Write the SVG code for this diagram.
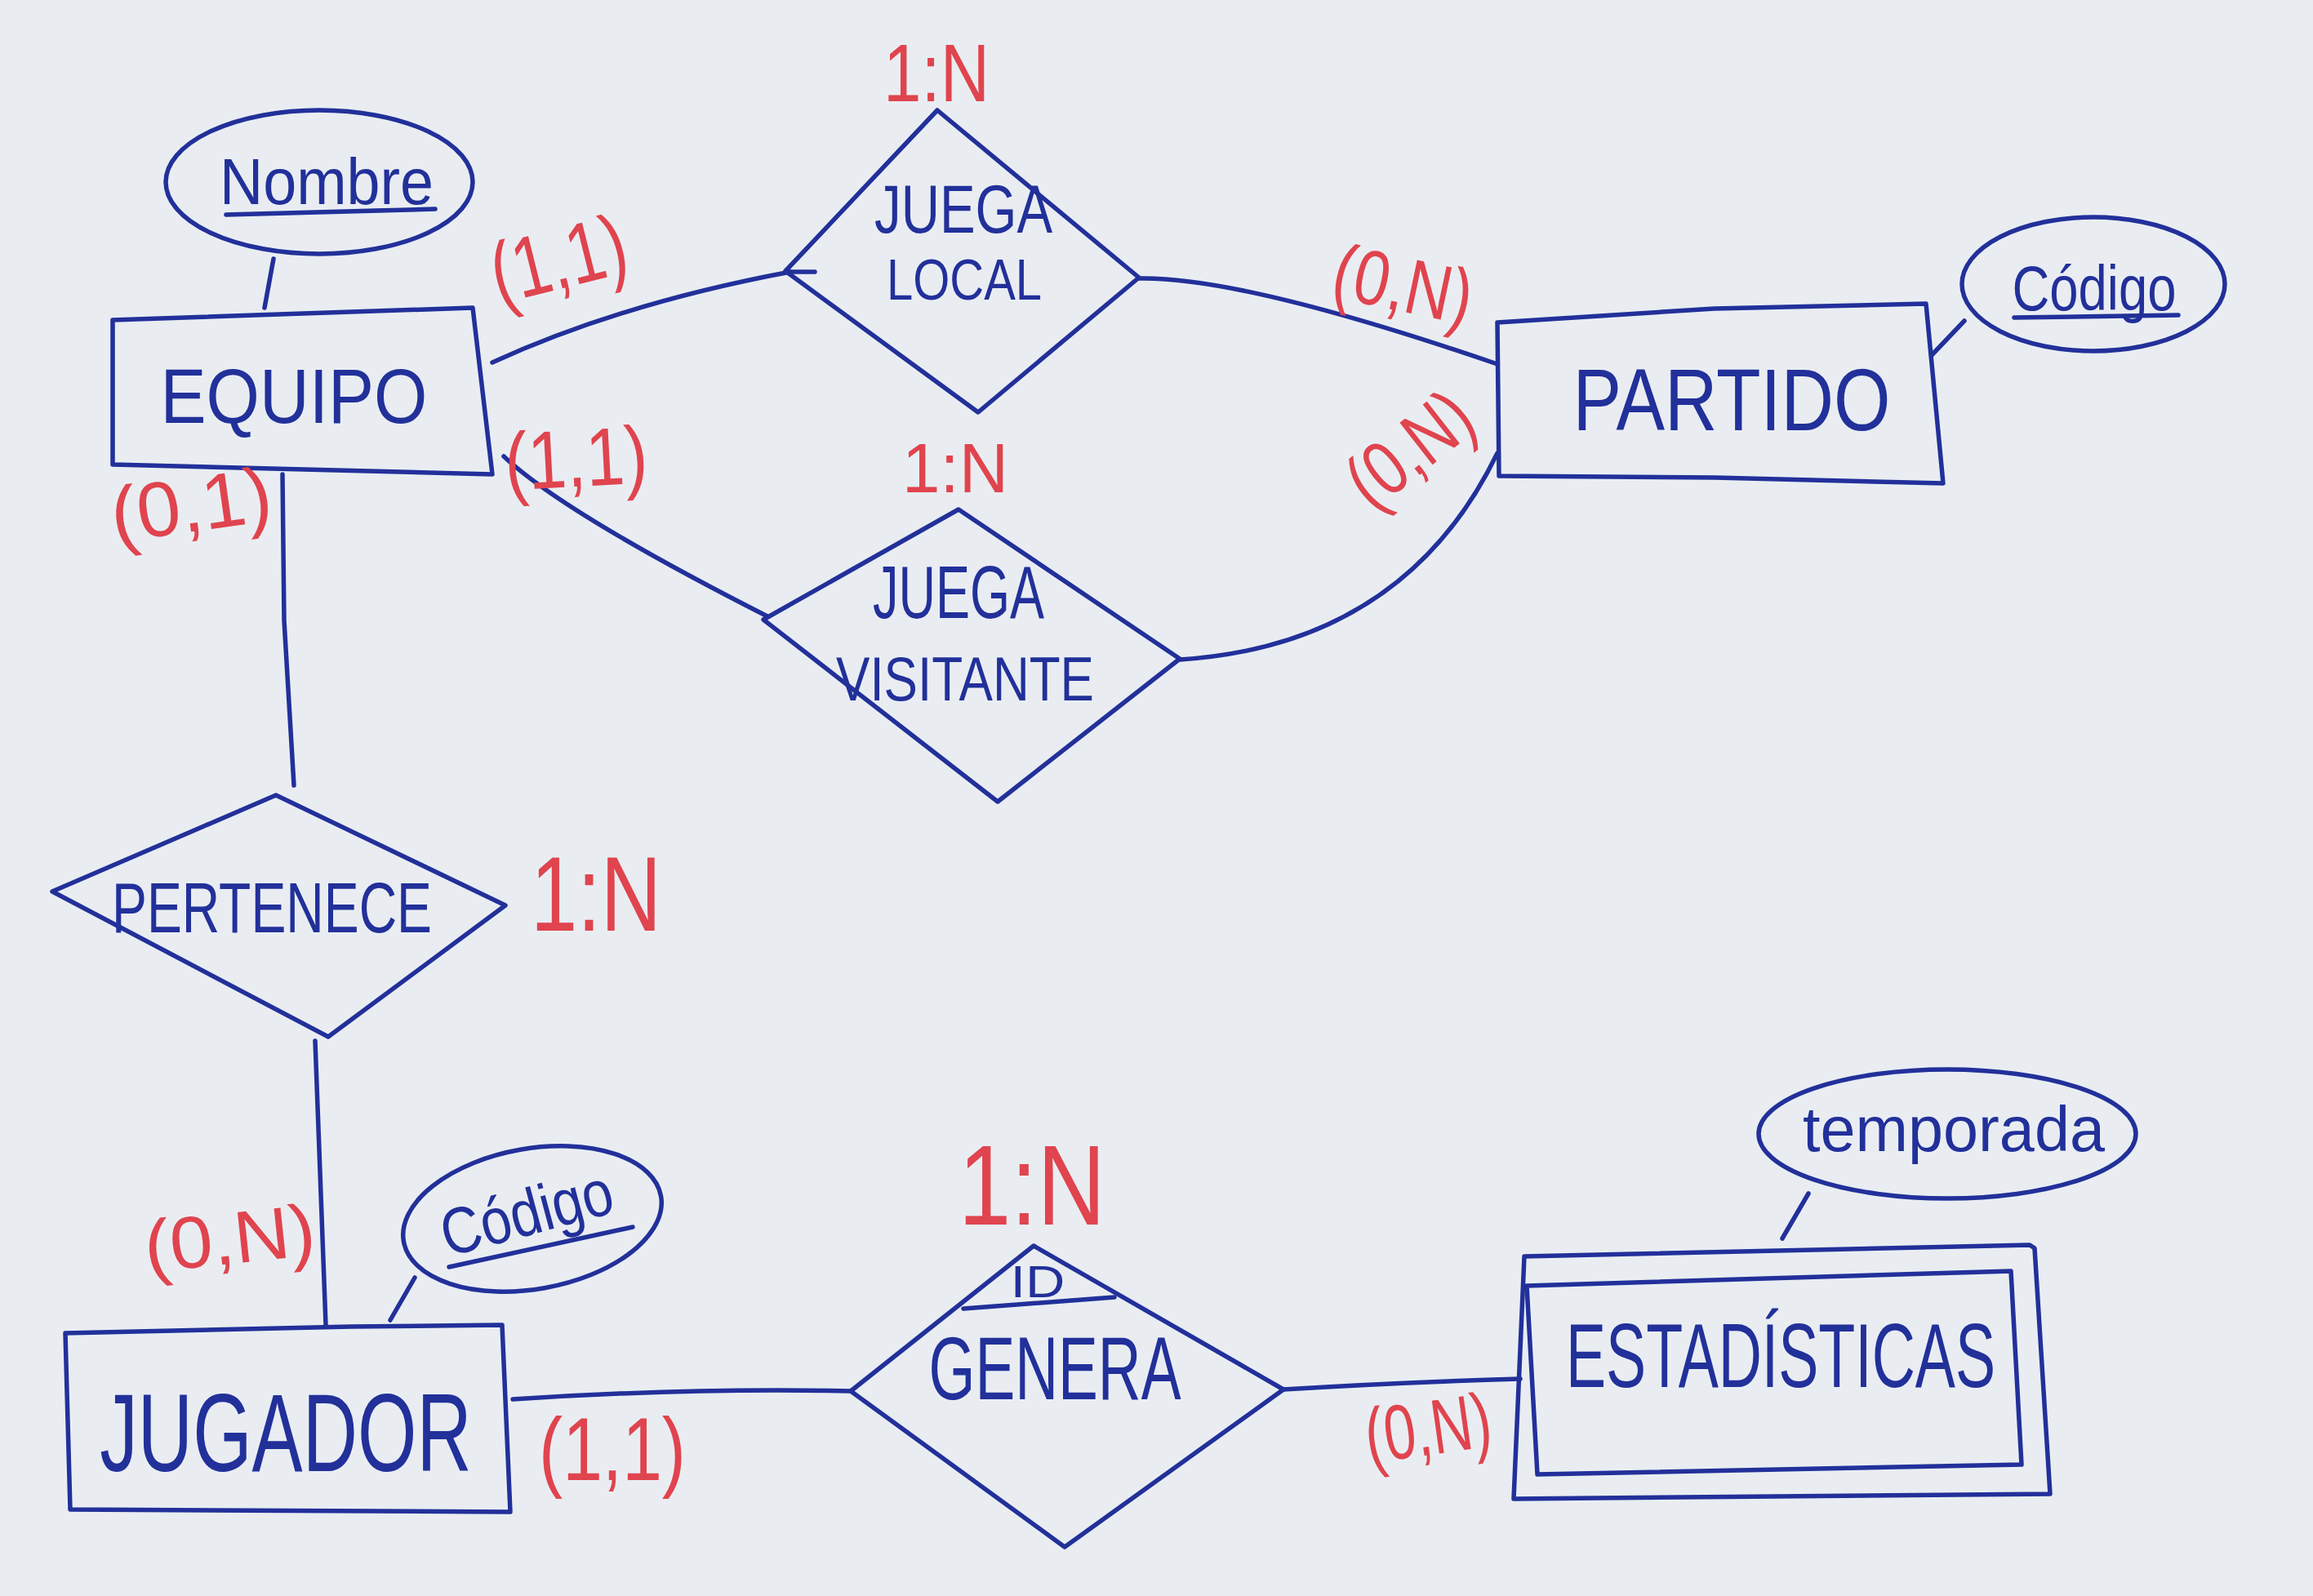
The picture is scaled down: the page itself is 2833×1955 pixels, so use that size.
<svg xmlns="http://www.w3.org/2000/svg" width="2833" height="1955" viewBox="0 0 2833 1955">
<style>
.ink{fill:none;stroke:#22309a;stroke-width:5.5;stroke-linejoin:round;stroke-linecap:round}
.lbl{font-family:"Liberation Sans","DejaVu Sans",sans-serif;fill:#22309a;text-anchor:middle}
.card{font-family:"Liberation Sans","DejaVu Sans",sans-serif;fill:#e0444e;text-anchor:middle}
</style>
<rect width="2833" height="1955" fill="#e9edf2"/>

<g id="connectors" class="ink">
  <path d="M603,444 Q760,372 968,333"/>
  <path d="M962,333 L998,333"/>
  <path d="M1394,341 Q1520,338 1834,446"/>
  <path d="M617,559 Q690,628 940,755"/>
  <path d="M1445,808 Q1720,790 1834,555"/>
  <path d="M346,581 L348,760 L360,962"/>
  <path d="M386,1275 L399,1623"/>
  <path d="M628,1714 Q840,1700 1042,1704"/>
  <path d="M1572,1702 Q1720,1693 1862,1689"/>
  <path d="M335,317 L324,377"/>
  <path d="M2406,393 L2366,435"/>
  <path d="M508,1565 L478,1617"/>
  <path d="M2215,1462 L2183,1517"/>
</g>

<g id="nombre">
  <ellipse class="ink" cx="391" cy="223" rx="188" ry="88"/>
  <text class="lbl" x="400" y="250" font-size="80" textLength="262" lengthAdjust="spacingAndGlyphs">Nombre</text>
  <path class="ink" d="M277,263 L533,256"/>
</g>

<g id="equipo">
  <path class="ink" d="M138,392 L579,377 L603,581 L138,569 Z"/>
  <text class="lbl" x="360" y="518" font-size="95" textLength="327" lengthAdjust="spacingAndGlyphs">EQUIPO</text>
</g>

<g id="juega-local">
  <path class="ink" d="M1148,135 L1395,340 L1198,505 L962,332 Z"/>
  <text class="lbl" x="1180" y="285" font-size="84" textLength="218" lengthAdjust="spacingAndGlyphs">JUEGA</text>
  <text class="lbl" x="1181" y="367" font-size="70" textLength="190" lengthAdjust="spacingAndGlyphs">LOCAL</text>
</g>

<g id="partido">
  <path class="ink" d="M1834,395 L2100,378 L2359,372 L2380,592 L2100,585 L1836,583 Z"/>
  <text class="lbl" x="2121" y="527" font-size="108" textLength="389" lengthAdjust="spacingAndGlyphs">PARTIDO</text>
</g>

<g id="codigo-partido">
  <ellipse class="ink" cx="2564" cy="348" rx="161" ry="82"/>
  <text class="lbl" x="2565" y="380" font-size="78" textLength="201" lengthAdjust="spacingAndGlyphs">Código</text>
  <path class="ink" d="M2467,389 L2668,386"/>
</g>

<g id="juega-visitante">
  <path class="ink" d="M1174,624 L1445,807 L1222,982 L935,759 Z"/>
  <text class="lbl" x="1174" y="757" font-size="90" textLength="210" lengthAdjust="spacingAndGlyphs">JUEGA</text>
  <text class="lbl" x="1182" y="858" font-size="76" textLength="316" lengthAdjust="spacingAndGlyphs">VISITANTE</text>
</g>

<g id="pertenece">
  <path class="ink" d="M338,974 L619,1109 L402,1270 L64,1092 Z"/>
  <text class="lbl" x="333" y="1142" font-size="88" textLength="392" lengthAdjust="spacingAndGlyphs">PERTENECE</text>
</g>

<g id="jugador">
  <path class="ink" d="M80,1633 L430,1625 L615,1623 L625,1852 L86,1849 Z"/>
  <text class="lbl" transform="translate(350,1802) scale(0.69,1)" x="0" y="0" font-size="135">JUGADOR</text>
</g>

<g id="codigo-jugador">
  <ellipse class="ink" cx="652" cy="1493" rx="160" ry="86" transform="rotate(-10 652 1493)"/>
  <text class="lbl" transform="translate(652,1512) rotate(-15)" x="0" y="0" font-size="80" textLength="215" lengthAdjust="spacingAndGlyphs">Código</text>
  <path class="ink" d="M550,1552 L775,1503"/>
</g>

<g id="genera">
  <path class="ink" d="M1266,1526 L1572,1702 L1304,1895 L1042,1704 Z"/>
  <text class="lbl" x="1271" y="1589" font-size="55" textLength="67" lengthAdjust="spacingAndGlyphs">ID</text>
  <path class="ink" d="M1180,1603 L1365,1589"/>
  <text class="lbl" x="1292" y="1714" font-size="110" textLength="309" lengthAdjust="spacingAndGlyphs">GENERA</text>
</g>

<g id="estadisticas">
  <path class="ink" d="M1867,1539 L2486,1525 L2492,1529 L2511,1830 L1854,1836 Z"/>
  <path class="ink" d="M1870,1575 L2463,1557 L2476,1794 L1883,1806 Z"/>
  <text class="lbl" x="2181" y="1699" font-size="112" textLength="526" lengthAdjust="spacingAndGlyphs">ESTADÍSTICAS</text>
</g>

<g id="temporada">
  <ellipse class="ink" cx="2385" cy="1389" rx="231" ry="79"/>
  <text class="lbl" x="2393" y="1410" font-size="78" textLength="370" lengthAdjust="spacingAndGlyphs">temporada</text>
</g>

<g id="cardinalities">
  <text class="card" x="1147" y="124" font-size="100" textLength="130" lengthAdjust="spacingAndGlyphs">1:N</text>
  <text class="card" x="1170" y="603" font-size="85" textLength="130" lengthAdjust="spacingAndGlyphs">1:N</text>
  <text class="card" x="730" y="1140" font-size="130" textLength="160" lengthAdjust="spacingAndGlyphs">1:N</text>
  <text class="card" x="1264" y="1500" font-size="140" textLength="180" lengthAdjust="spacingAndGlyphs">1:N</text>
  <text class="card" transform="translate(686,326) rotate(-14)" x="0" y="27" font-size="105" textLength="168" lengthAdjust="spacingAndGlyphs">(1,1)</text>
  <text class="card" transform="translate(706,570) rotate(-3)" x="0" y="26" font-size="100" textLength="175" lengthAdjust="spacingAndGlyphs">(1,1)</text>
  <text class="card" transform="translate(235,626) rotate(-8)" x="0" y="25" font-size="95" textLength="198" lengthAdjust="spacingAndGlyphs">(0,1)</text>
  <text class="card" transform="translate(1717,356) rotate(12)" x="0" y="25" font-size="95" textLength="172" lengthAdjust="spacingAndGlyphs">(0,N)</text>
  <text class="card" transform="translate(1731,556) rotate(-38)" x="0" y="25" font-size="95" textLength="168" lengthAdjust="spacingAndGlyphs">(0,N)</text>
  <text class="card" transform="translate(282,1525) rotate(-6)" x="0" y="23" font-size="90" textLength="210" lengthAdjust="spacingAndGlyphs">(0,N)</text>
  <text class="card" transform="translate(750,1784)" x="0" y="29" font-size="110" textLength="180" lengthAdjust="spacingAndGlyphs">(1,1)</text>
  <text class="card" transform="translate(1750,1757) rotate(-8)" x="0" y="25" font-size="95" textLength="155" lengthAdjust="spacingAndGlyphs">(0,N)</text>
</g>
</svg>
